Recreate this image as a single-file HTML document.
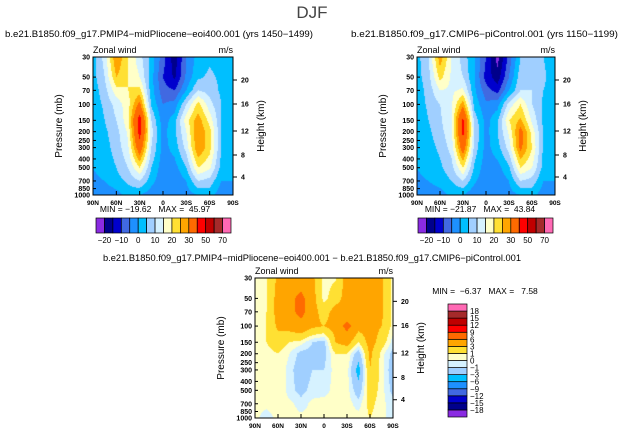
<!DOCTYPE html>
<html><head><meta charset="utf-8">
<style>
html,body{margin:0;padding:0;background:#fff;}
#root{position:relative;width:624px;height:435px;overflow:hidden;font-family:"Liberation Sans",sans-serif;}
canvas{position:absolute;}
svg{position:absolute;left:0;top:0;}
.pre{white-space:pre;}
</style></head>
<body>
<div id="root">
<canvas id="cA"></canvas>
<canvas id="cB"></canvas>
<canvas id="cC"></canvas>
<svg id="ov" width="624" height="435">
<text x="312" y="18" font-size="17" text-anchor="middle" fill="#444">DJF</text>
</svg>
</div>
<script>
// ---- data ----
const lats = ["90N","75N","60N","45N","30N","15N","0","15S","30S","45S","60S","75S","90S"];
const levels = [30,50,70,100,150,200,300,500,700,1000];
const fieldA = [
[3,12,30,20,12,3,-8,-18,-5,2,4,3,2],
[3,10,25,20,15,2,-10,-16,-4,4,6,4,2],
[2,8,18,20,22,2,-8,-10,0,10,8,4,2],
[2,6,12,18,32,4,-5,-3,10,22,12,5,2],
[1,5,10,18,45,10,-3,3,18,28,18,5,2],
[1,4,8,16,44,12,-2,4,15,30,22,5,2],
[1,3,7,14,36,10,-2,2,12,30,22,5,2],
[0,2,5,10,20,5,-3,-2,5,20,16,3,1],
[-1,0,3,6,10,2,-4,-4,0,10,8,0,0],
[-2,-3,-2,2,0,-3,-5,-4,-2,0,2,-3,0]];
const fieldB = [
[3,10,28,15,8,0,-10,-22,-8,5,8,5,2],
[3,8,22,14,10,0,-12,-18,-5,8,10,6,2],
[2,7,15,14,16,1,-8,-12,0,10,10,5,2],
[2,6,10,14,28,3,-4,-2,12,20,10,4,2],
[1,5,9,15,42,8,-2,4,20,26,14,4,2],
[1,4,8,14,43,10,-2,5,16,33,18,4,2],
[1,3,6,12,35,8,-2,3,12,32,20,4,2],
[0,2,4,8,20,4,-3,-2,4,20,15,3,1],
[-1,0,2,5,10,1,-4,-4,0,10,8,0,0],
[-2,-3,-2,1,0,-4,-5,-4,-2,0,2,-3,0]];
const fieldC = [
[0.5,0.8,3.5,4,4,3.5,0.5,0.8,4,4,4,3.5,0.5],
[0.5,0.8,4,5,7,4,0.5,2,4,4,4,3.5,0.5],
[0.5,1,4,5,7,4,2,4,4,4,4,3.5,0.5],
[0.5,1,3.5,4,5,3.5,3,4,7,4,4,3,0.5],
[0.5,1,2,1,0.5,-1,-1.5,3,4,1,4,2,-0.5],
[0.5,0.5,1,0,-1.5,-1.5,-1.5,1,1,-2,3.5,0.5,-1.5],
[0.5,0.5,1,-0.5,-2,-1,-1,0.5,0.5,-4,3,0.5,-2],
[0.3,0.3,1,-0.5,-1.5,-0.5,-0.5,0.5,0.5,-2,2,0.5,-1.5],
[0.3,0.3,0.5,0.3,-0.5,0.3,0.5,0.5,0.5,-0.5,1.5,0.3,-0.5],
[0.3,-0.5,0.3,0.5,0.3,0.3,0.5,0.5,0.3,0.5,1,0.3,-0.5]];
const contA = [-20,-15,-10,-5,0,5,10,15,20,25,30,40,50,60,70];
const contC = [-18,-15,-12,-9,-6,-3,-1,0,1,3,6,9,12,15,18];
const labA = ["-20","-10","0","10","20","30","50","70"];
const labC = ["-18","-15","-12","-9","-6","-3","-1","0","1","3","6","9","12","15","18"];
const presTicks = [30,50,70,100,150,200,250,300,400,500,700,850,1000];
const latTicks = ["90N","60N","30N","0","30S","60S","90S"];
const hTicks = [20,16,12,8,4];
const hFrac = [23,47,74,98,120];
const colsA = ["#8a2be2","#00008b","#0000cd","#4169e1","#1e90ff","#00bfff","#a0cfff","#d6f2ff","#ffffc8","#ffe033","#ffa500","#ff6a00","#ff0000","#c00000","#a52a2a","#ff69b4"];

const NS="http://www.w3.org/2000/svg";
const ov=document.getElementById('ov');
function el(tag,attrs,txt,name){const e=document.createElementNS(NS,tag);for(const k in attrs)e.setAttribute(k,attrs[k]);if(txt!==undefined)e.textContent=txt;


ov.appendChild(e);return e;}
function fmt(s){return s.replace(/-/g,'\u2212');}

function colorFor(v,cont){let i=0;while(i<cont.length&&v>=cont[i])i++;return colsA[i];}
function hex(c){return [parseInt(c.substr(1,2),16),parseInt(c.substr(3,2),16),parseInt(c.substr(5,2),16)];}
const lnTop=Math.log(30),lnSpan=Math.log(1000/30);
function sample(f,fx,fy){
  const lp=Math.exp(lnTop+fy*lnSpan);
  let r=0;while(r<levels.length-2&&lp>levels[r+1])r++;
  const ty=Math.max(0,Math.min(1,(Math.log(lp)-Math.log(levels[r]))/(Math.log(levels[r+1])-Math.log(levels[r]))));
  const cx=fx*(lats.length-1);let c=Math.min(lats.length-2,Math.floor(cx));const tx=cx-c;
  const a=f[r][c]*(1-tx)+f[r][c+1]*tx, b=f[r+1][c]*(1-tx)+f[r+1][c+1]*tx;
  return a*(1-ty)+b*ty;
}
function panel(id,f,cont,x0,y0,w,h,sub,subX1,subX2,subY,minmax,mmX,mmY){
  const cv=document.getElementById(id);cv.width=w;cv.height=h;cv.style.left=x0+'px';cv.style.top=y0+'px';
  const ctx=cv.getContext('2d');const img=ctx.createImageData(w,h);
  for(let y=0;y<h;y++)for(let x=0;x<w;x++){const v=sample(f,(x+0.5)/w,(y+0.5)/h);const c=hex(colorFor(v,cont));const k=(y*w+x)*4;img.data[k]=c[0];img.data[k+1]=c[1];img.data[k+2]=c[2];img.data[k+3]=255;}
  ctx.putImageData(img,0,0);
  el('rect',{x:x0,y:y0,width:w,height:h,fill:'none',stroke:'#000','stroke-width':1},undefined,'plot-frame');
  el('text',{x:(subX1+subX2)/2,y:subY,'font-size':9,'text-anchor':'middle',textLength:subX2-subX1,lengthAdjust:'spacingAndGlyphs'},fmt(sub),'panel-subtitle');
  el('text',{x:x0,y:y0-4,'font-size':9},'Zonal wind','variable-label');
  el('text',{x:x0+w,y:y0-4,'font-size':9,'text-anchor':'end'},'m/s','units-label');
  presTicks.forEach(p=>{const y=y0+Math.log(p/30)/lnSpan*h;
    el('line',{x1:x0,x2:x0+3,y1:y,y2:y,stroke:'#000'},undefined,'pressure-tick');
    el('text',{x:x0-3,y:y+2.5,'font-size':7,'font-weight':'bold','text-anchor':'end'},String(p),'pressure-tick-label');});
  latTicks.forEach((l,i)=>{const x=x0+i/(latTicks.length-1)*w;
    el('line',{x1:x,x2:x,y1:y0+h,y2:y0+h-4,stroke:'#000'},undefined,'lat-tick');
    el('text',{x:x,y:y0+h+10,'font-size':6.5,'font-weight':'bold','text-anchor':'middle'},l,'lat-tick-label');});
  hTicks.forEach((t,i)=>{const y=y0+hFrac[i]/138*h;
    el('line',{x1:x0+w,x2:x0+w+4,y1:y,y2:y,stroke:'#000'},undefined,'height-tick');
    el('text',{x:x0+w+8,y:y+2.5,'font-size':7,'font-weight':'bold'},String(t),'height-tick-label');});
  el('text',{x:x0-31,y:y0+h/2,'font-size':10,'text-anchor':'middle',transform:`rotate(-90 ${x0-31} ${y0+h/2})`},'Pressure (mb)','y-axis-title');
  el('text',{x:x0+w+31,y:y0+h/2,'font-size':10,'text-anchor':'middle',transform:`rotate(-90 ${x0+w+31} ${y0+h/2})`},'Height (km)','y2-axis-title');
  el('text',{x:mmX,y:mmY,'font-size':8.5,'text-anchor':'middle','class':'pre'},fmt(minmax),'min-max-label');
}
function hbar(x0,y0,w,h){const bw=w/16;
  colsA.forEach((c,i)=>el('rect',{x:x0+i*bw,y:y0,width:bw,height:h,fill:c,stroke:'#000','stroke-width':0.7},undefined,'colorbar-box'));
  labA.forEach((l,i)=>el('text',{x:x0+(2*i+1)*bw,y:y0+h+10,'font-size':8,'text-anchor':'middle'},fmt(l),'colorbar-label'));}
function vbar(x0,y0,w,h){const bh=h/16;
  colsA.forEach((c,i)=>el('rect',{x:x0,y:y0+(15-i)*bh,width:w,height:bh,fill:c,stroke:'#000','stroke-width':0.7},undefined,'colorbar-box'));
  labC.forEach((l,i)=>el('text',{x:x0+w+3,y:y0+(15-i)*bh+3,'font-size':8},fmt(l),'colorbar-label'));}

panel('cA',fieldA,contA,93,57,140,138,'b.e21.B1850.f09_g17.PMIP4-midPliocene-eoi400.001 (yrs 1450-1499)',5,313,37,'MIN = -19.62   MAX =  45.97',155,212);
panel('cB',fieldB,contA,417,57,138,138,'b.e21.B1850.f09_g17.CMIP6-piControl.001 (yrs 1150-1199)',351,618,37,'MIN = -21.87   MAX =  43.84',480,212);
panel('cC',fieldC,contC,255,278,138,140,'b.e21.B1850.f09_g17.PMIP4-midPliocene-eoi400.001  -  b.e21.B1850.f09_g17.CMIP6-piControl.001',103,521,261,'MIN =  -6.37   MAX =   7.58',485,294);
hbar(96,218,135,15);
hbar(418,218,135,15);
vbar(448,304,19,113);
</script>
</body></html>
